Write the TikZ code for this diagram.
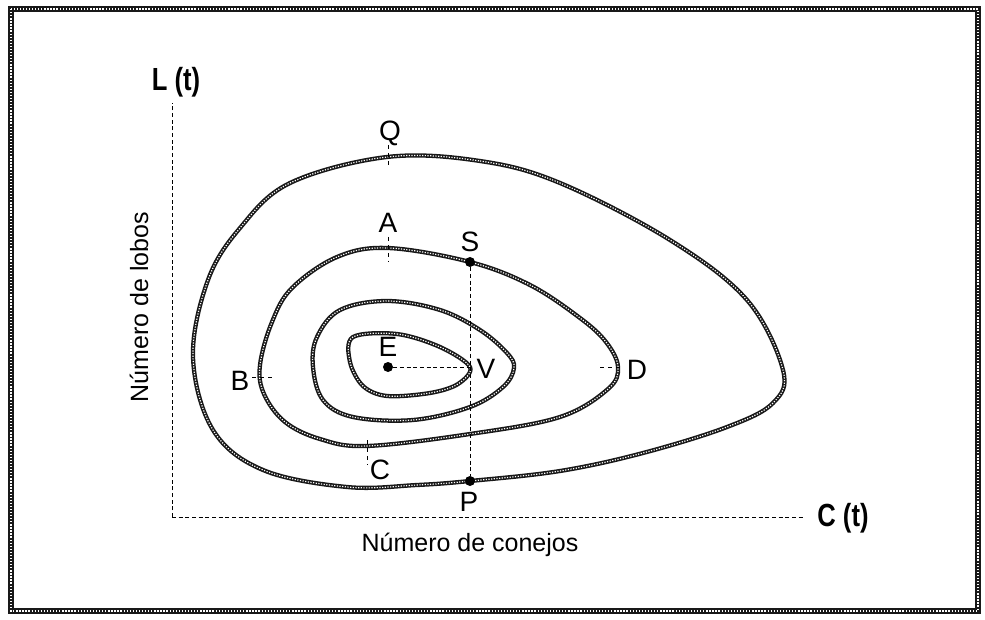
\documentclass[tikz,border=0pt]{standalone}
\usepackage{fontspec}
\setmainfont{Liberation Sans}
\usepackage{tikz}
\usetikzlibrary{positioning}
\tikzset{orbit/.style={line width=3.2pt, black!90, postaction={draw=white, line width=0.9pt, dash pattern=on 0.9pt off 1.1pt}},
  guide/.style={densely dashed, line width=0.5pt},
  tick/.style={dashed, line width=0.4pt},
  dot/.style={circle, fill=black, inner sep=0pt, minimum size=7.5pt},
  letter/.style={font=\fontsize{21}{21}\selectfont, inner sep=0pt},
  axislabel/.style={font=\fontsize{24}{24}\selectfont\bfseries, xscale=0.8, inner sep=0pt},
  axistitle/.style={font=\fontsize{18.75}{18.75}\selectfont, inner sep=0pt}}

\begin{document}
\begin{tikzpicture}[x=0.75pt, y=-0.75pt]
\useasboundingbox (0,0) rectangle (985,620);
\draw[line width=4.5pt, black!90, postaction={draw=white, line width=1.3pt, dash pattern=on 1pt off 1.3pt}] (11,9) rectangle (978,611);
% axes
\coordinate (O) at (172,517);
\coordinate (ytop) at (172,103);
\coordinate (xend) at (805,517);
\draw[guide] (O) -- (ytop);
\draw[guide] (O) -- (xend);
\node[axislabel] (Lt) at (176,82) {L (t)};
\node[axislabel] (Ct) at (843,518) {C (t)};
\node[axistitle, rotate=90] (lobos) at (139,307) {Número de lobos};
\node[axistitle] (conejos) at (470,545) {Número de conejos};
% orbits
\draw[orbit] plot[smooth cycle, tension=0.6] coordinates {(387,157) (480,161) (560,183) (670,240) (747,300) (783,370) (773,403) (727,427) (643,453) (560,471) (470,481) (417,485) (347,487) (263,470) (213,430) (193,357) (208,280) (240,228) (290,183)};
\draw[orbit] plot[smooth cycle, tension=0.6] coordinates {(388,248) (470,262) (530,285) (580,318) (606,342) (618,367) (608,389) (560,417) (470,434) (367,446) (320,439) (285,422) (264,394) (260,365) (272,322) (292,288) (337,257)};
\draw[orbit] plot[smooth cycle, tension=0.6] coordinates {(387,301) (440,310) (480,330) (507,353) (514,368) (503,387) (470,407) (413,420) (353,417) (323,400) (313,367) (317,337) (340,310)};
\draw[orbit] plot[smooth cycle, tension=0.55] coordinates {(353,337) (397,334) (440,347) (470,367) (458,384) (430,393) (387,396) (363,386) (350,362)};
% points
\node[dot] (E) at (388,367) {};
\node[dot] (S) at (470,262) {};
\node[dot] (P) at (470,481) {};
\coordinate (Vpt) at (470,367);
\draw[guide] (E) -- (Vpt);
\draw[guide] (S) -- (P);
\node[letter] at (388,347) {E};
\node[letter] at (486,369) {V};
\node[letter] at (470,242) {S};
\node[letter] at (469,502) {P};
\node[letter] at (390,133) {Q};
\node[letter] at (388,223) {A};
\node[letter] at (240,381) {B};
\node[letter] at (380,470) {C};
\node[letter] at (637,370) {D};
% ticks
\draw[tick] (388,145) -- (388,168);
\draw[tick] (388,237) -- (388,262);
\draw[tick] (252,377) -- (275,377);
\draw[tick] (367,440) -- (367,465);
\draw[tick] (600,367) -- (623,367);
\end{tikzpicture}
\end{document}
